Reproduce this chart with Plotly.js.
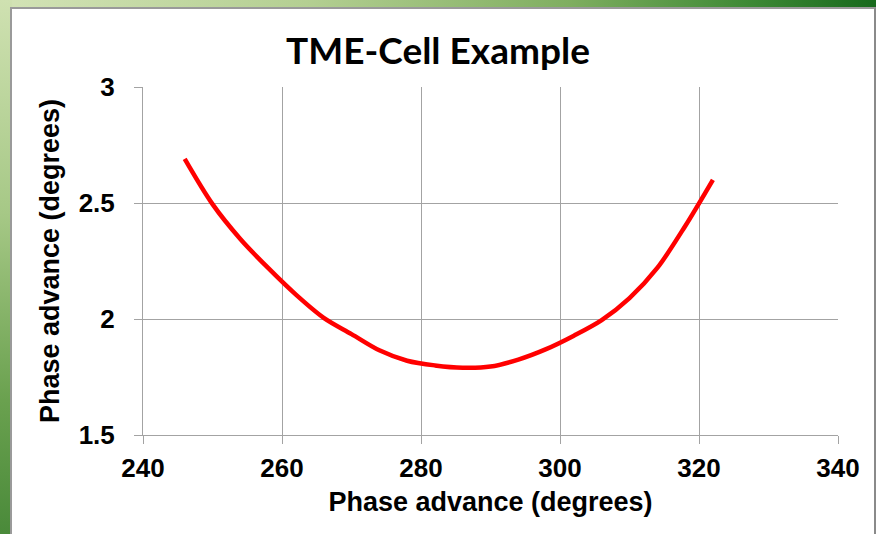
<!DOCTYPE html>
<html>
<head>
<meta charset="utf-8">
<script src="https://cdn.plot.ly/plotly-3.0.1.min.js"></script>
<style>
  html, body { margin: 0; padding: 0; }
  body { width: 876px; height: 534px; position: relative; overflow: hidden;
         background: linear-gradient(to right, #d3e3b6 0%, #b4cf92 35%, #7fae60 65%, #3f8a36 85%, #17691c 100%); }
  #leftband { position: absolute; left: 0; top: 0; width: 12px; height: 534px;
              background: linear-gradient(to bottom, #cfe1b1 0%, #a6c886 40%, #6aa14f 75%, #4a8a3a 100%); }
  #panel { position: absolute; left: 10px; top: 7px; width: 862px; height: 540px;
           background: #ffffff; border-left: 2px solid #9a9a9a; border-top: 2px solid #9a9a9a;
           border-right: 2px solid #8a8a8a; }
  #chart { position: absolute; left: 0; top: 0; width: 876px; height: 534px; }
</style>
</head>
<body>
<div id="leftband"></div>
<div id="panel"></div>
<div id="chart"></div>
<script>
// Phase advance (x, degrees) vs phase advance (y, degrees)
const phaseX = [246, 250, 254, 258, 262, 266, 270, 274, 278, 282, 286, 290, 294, 298, 302, 306, 310, 314, 318, 322];
const phaseY = [2.69, 2.495, 2.345, 2.22, 2.105, 2.005, 1.935, 1.865, 1.82, 1.80, 1.79, 1.795, 1.825, 1.87, 1.928, 1.995, 2.09, 2.22, 2.40, 2.60];
const xTicks = [240, 260, 280, 300, 320, 340];
const yTicks = [1.5, 2, 2.5, 3];
const yTickText = ['1.5', '2', '2.5', '3'];

const gridColor = '#a3a3a3';
const tickFont = { family: 'Liberation Sans, Arial, sans-serif', size: 26, color: '#000000', weight: 'bold' };
const titleFont = { family: 'Liberation Sans, Arial, sans-serif', size: 27, color: '#000000', weight: 'bold' };

const trace = {
  x: phaseX, y: phaseY, type: 'scatter', mode: 'lines',
  line: { color: '#ff0000', width: 4.5, shape: 'spline', smoothing: 0.9 },
  hoverinfo: 'skip'
};

const layout = {
  width: 876, height: 534,
  paper_bgcolor: 'rgba(0,0,0,0)', plot_bgcolor: '#ffffff',
  margin: { l: 143, r: 38, t: 87, b: 99 },
  showlegend: false,
  title: { text: '<b>TME-Cell Example</b>', x: 0.5, xref: 'container', xanchor: 'center',
           y: 1 - 51/534, yref: 'container', yanchor: 'middle',
           font: { family: 'Lato, Open Sans, sans-serif', size: 37, color: '#000000' } },
  xaxis: {
    range: [240, 340], tickvals: xTicks, ticktext: xTicks.map(String),
    showgrid: true, gridcolor: gridColor, gridwidth: 1,
    showline: true, linecolor: gridColor, linewidth: 1, mirror: false,
    ticks: 'outside', ticklen: 8, tickcolor: gridColor, tickwidth: 1,
    ticklabelstandoff: 2,
    tickfont: tickFont, zeroline: false, fixedrange: true,
    title: { text: 'Phase advance (degrees)', font: titleFont, standoff: 9 }
  },
  yaxis: {
    range: [1.5, 3], tickvals: yTicks, ticktext: yTickText,
    showgrid: true, gridcolor: gridColor, gridwidth: 1,
    showline: true, linecolor: gridColor, linewidth: 1, mirror: false,
    ticks: 'outside', ticklen: 8, tickcolor: gridColor, tickwidth: 1,
    ticklabelstandoff: 14,
    tickfont: tickFont, zeroline: false, fixedrange: true,
    title: { text: 'Phase advance (degrees)', font: titleFont, standoff: 11 }
  }
};

Plotly.newPlot('chart', [trace], layout, { staticPlot: true, displayModeBar: false });
</script>
</body>
</html>
